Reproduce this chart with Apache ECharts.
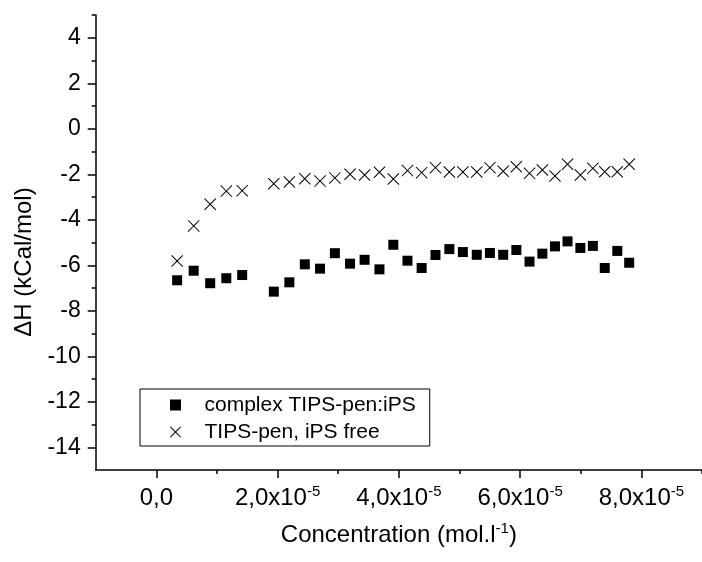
<!DOCTYPE html>
<html>
<head>
<meta charset="utf-8">
<script src="https://cdn.jsdelivr.net/npm/echarts@6/dist/echarts.min.js"></script>
<style>html,body{margin:0;padding:0;background:#fff}#c{width:702px;height:562px}</style>
</head>
<body>
<div id="c"></div>
<script>
// Concentration (mol/l)
const concentration = [0.343e-5, 0.616e-5, 0.888e-5, 1.154e-5, 1.416e-5, 1.938e-5, 2.194e-5, 2.449e-5,
  2.700e-5, 2.945e-5, 3.195e-5, 3.435e-5, 3.680e-5, 3.909e-5, 4.142e-5, 4.376e-5, 4.604e-5, 4.833e-5,
  5.056e-5, 5.285e-5, 5.502e-5, 5.721e-5, 5.938e-5, 6.155e-5, 6.367e-5, 6.575e-5, 6.782e-5, 6.994e-5,
  7.200e-5, 7.396e-5, 7.603e-5, 7.799e-5];
// ΔH complex TIPS-pen:iPS (kCal/mol)
const dHComplex = [-6.66, -6.24, -6.79, -6.57, -6.43, -7.16, -6.75, -5.96, -6.15, -5.47, -5.93, -5.76,
  -6.18, -5.10, -5.80, -6.12, -5.55, -5.29, -5.42, -5.54, -5.46, -5.54, -5.33, -5.84, -5.49, -5.17,
  -4.95, -5.24, -5.15, -6.12, -5.37, -5.89];
// ΔH TIPS-pen, iPS free (kCal/mol)
const dHFree = [-5.81, -4.27, -3.32, -2.74, -2.72, -2.42, -2.34, -2.20, -2.30, -2.16, -2.00, -2.03,
  -1.91, -2.21, -1.84, -1.93, -1.71, -1.90, -1.90, -1.90, -1.71, -1.87, -1.67, -1.96, -1.81, -2.08,
  -1.56, -2.03, -1.74, -1.89, -1.89, -1.56];
const seriesNames = ['complex TIPS-pen:iPS', 'TIPS-pen, iPS free'];
const xMajorTicks = [0, 2e-5, 4e-5, 6e-5, 8e-5];
const xMinorTicks = [1e-5, 3e-5, 5e-5, 7e-5, 9e-5];
const yMajorTicks = [-14, -12, -10, -8, -6, -4, -2, 0, 2, 4];
const yMinorTicks = [-13, -11, -9, -7, -5, -3, -1, 1, 3, 5];

const FONT = 'Liberation Sans';
const squarePath = 'path://M0,0H10V10H0Z';
const crossPath = 'path://M0,0.7L0.7,0L6,5.3L11.3,0L12,0.7L6.7,6L12,11.3L11.3,12L6,6.7L0.7,12L0,11.3L5.3,6Z';

function xLabel(v) {
  if (Math.abs(v) < 1e-12) return '{m|0,0}';
  const mant = (v / 1e-5).toFixed(1).replace('.', ',');
  return '{m|' + mant + 'x10}{s|-5}';
}
const richX = {
  m: {fontSize: 24, fontFamily: FONT, color: '#000', lineHeight: 28},
  s: {fontSize: 15, fontFamily: FONT, color: '#000', verticalAlign: 'top', lineHeight: 15}
};

const chart = echarts.init(document.getElementById('c'), null, {renderer: 'canvas'});
const axisCommon = {color: '#000', width: 1.5};
chart.setOption({
  animation: false,
  backgroundColor: '#fff',
  grid: {left: 95.7, right: -6.6, top: 15, bottom: 92, containLabel: false},
  xAxis: [{
    type: 'value', min: -1e-5, max: 9e-5, position: 'bottom',
    axisLine: {show: true, onZero: false, lineStyle: axisCommon},
    axisTick: {show: true, inside: false, length: 8, customValues: xMajorTicks, lineStyle: axisCommon},
    axisLabel: {show: true, customValues: xMajorTicks, margin: 14, formatter: xLabel, rich: richX},
    splitLine: {show: false},
    name: '{m|Concentration (mol.l}{s|-1}{m|)}', nameLocation: 'middle', nameGap: 51,
    nameTextStyle: {rich: richX}
  }, {
    type: 'value', min: -1e-5, max: 9e-5, position: 'bottom', gridIndex: 0,
    axisLine: {show: false, onZero: false},
    axisTick: {show: true, inside: false, length: 4, customValues: xMinorTicks, lineStyle: axisCommon},
    axisLabel: {show: false}, splitLine: {show: false}
  }],
  yAxis: [{
    type: 'value', min: -15, max: 5, position: 'left',
    axisLine: {show: true, onZero: false, lineStyle: axisCommon},
    axisTick: {show: true, inside: false, length: 8, customValues: yMajorTicks, lineStyle: axisCommon},
    axisLabel: {show: true, customValues: yMajorTicks, margin: 15, fontSize: 23, fontFamily: FONT, color: '#000'},
    splitLine: {show: false},
    name: 'ΔH (kCal/mol)', nameLocation: 'middle', nameGap: 59,
    nameTextStyle: {fontSize: 24, fontFamily: FONT, color: '#000', padding: [0, 39, 0, 0]}
  }, {
    type: 'value', min: -15, max: 5, position: 'left', gridIndex: 0,
    axisLine: {show: false, onZero: false},
    axisTick: {show: true, inside: false, length: 4, customValues: yMinorTicks, lineStyle: axisCommon},
    axisLabel: {show: false}, splitLine: {show: false}
  }],
  legend: {
    orient: 'vertical', left: 140, top: 389,
    padding: [5, 14, 3, 30], itemGap: 5,
    itemWidth: 48, itemHeight: 11, symbolKeepAspect: true,
    borderColor: '#000', borderWidth: 1,
    textStyle: {fontSize: 21, fontFamily: FONT, color: '#000', lineHeight: 22},
    data: seriesNames
  },
  series: [{
    name: seriesNames[0], type: 'scatter', xAxisIndex: 0, yAxisIndex: 0,
    symbol: squarePath, symbolSize: 10, symbolKeepAspect: true,
    itemStyle: {color: '#000', opacity: 1},
    data: concentration.map((c, i) => [c, dHComplex[i]])
  }, {
    name: seriesNames[1], type: 'scatter', xAxisIndex: 0, yAxisIndex: 0,
    symbol: crossPath, symbolSize: 12, symbolKeepAspect: true,
    itemStyle: {color: '#000', opacity: 1},
    data: concentration.map((c, i) => [c, dHFree[i]])
  }]
});
</script>
</body>
</html>
